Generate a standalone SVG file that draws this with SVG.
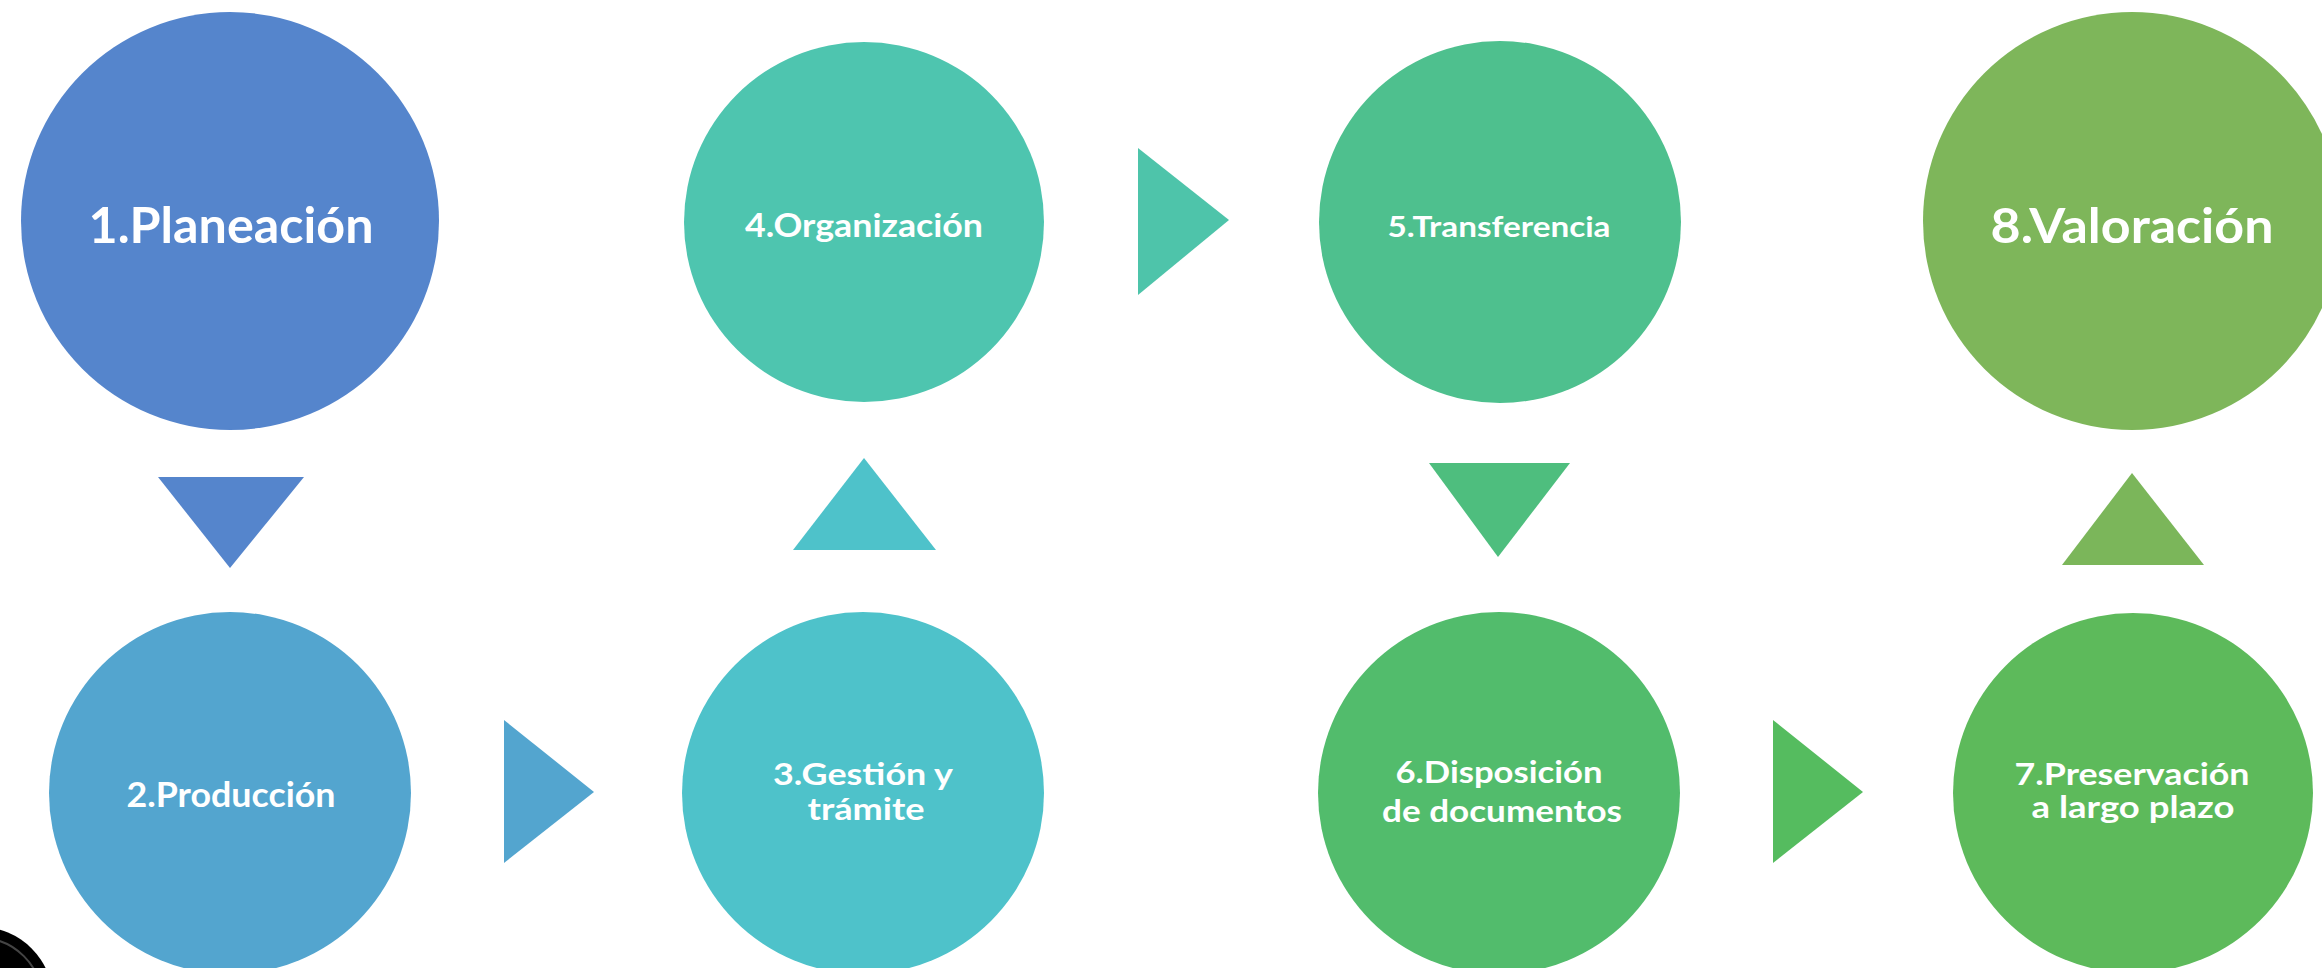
<svg xmlns="http://www.w3.org/2000/svg" width="2322" height="968" viewBox="0 0 2322 968">
  <style>
    .lbl { font-family: Lato, "Open Sans", "Liberation Sans", sans-serif; font-weight: 700; fill: #ffffff; text-anchor: middle; }
  </style>
  <rect width="2322" height="968" fill="#ffffff"/>

  <g id="connectors">
    <polygon points="158,477 304,477 230,568" fill="#5585CC"/>
    <polygon points="504,720 504,863 594,792" fill="#53A5CF"/>
    <polygon points="793,550 936,550 864,458" fill="#4EC2CA"/>
    <polygon points="1138,148 1138,295 1229,220" fill="#4EC4AA"/>
    <polygon points="1429,463 1570,463 1498,557" fill="#4EBE7E"/>
    <polygon points="1773,720 1773,863 1863,792" fill="#55BC5F"/>
    <polygon points="2062,565 2204,565 2132,473" fill="#7BB65A"/>
  </g>

  <g id="node1">
    <circle cx="230" cy="221" r="209" fill="#5585CC"/>
    <text class="lbl" x="231" y="243" font-size="50" textLength="285" lengthAdjust="spacingAndGlyphs">1.Planeación</text>
  </g>
  <g id="node2">
    <circle cx="230" cy="793" r="181" fill="#53A5CF"/>
    <text class="lbl" x="231" y="807" font-size="35" textLength="209" lengthAdjust="spacingAndGlyphs">2.Producción</text>
  </g>
  <g id="node3">
    <circle cx="863" cy="793" r="181" fill="#4EC2CA"/>
    <text class="lbl" x="863" y="785" font-size="30" textLength="180" lengthAdjust="spacingAndGlyphs">3.Gestión y</text>
    <text class="lbl" x="866" y="820" font-size="30" textLength="117" lengthAdjust="spacingAndGlyphs">trámite</text>
  </g>
  <g id="node4">
    <circle cx="864" cy="222" r="180" fill="#4EC5AF"/>
    <text class="lbl" x="864" y="237" font-size="33" textLength="238" lengthAdjust="spacingAndGlyphs">4.Organización</text>
  </g>
  <g id="node5">
    <circle cx="1500" cy="222" r="181" fill="#4EC08E"/>
    <text class="lbl" x="1499" y="237" font-size="28" textLength="223" lengthAdjust="spacingAndGlyphs">5.Transferencia</text>
  </g>
  <g id="node6">
    <circle cx="1499" cy="793" r="181" fill="#52BC6C"/>
    <text class="lbl" x="1499" y="783" font-size="30" textLength="207" lengthAdjust="spacingAndGlyphs">6.Disposición</text>
    <text class="lbl" x="1502" y="822" font-size="30" textLength="240" lengthAdjust="spacingAndGlyphs">de documentos</text>
  </g>
  <g id="node7">
    <circle cx="2133" cy="793" r="180" fill="#5DBA5B"/>
    <text class="lbl" x="2132" y="785" font-size="30" textLength="235" lengthAdjust="spacingAndGlyphs">7.Preservación</text>
    <text class="lbl" x="2133" y="818" font-size="30" textLength="203" lengthAdjust="spacingAndGlyphs">a largo plazo</text>
  </g>
  <g id="node8">
    <circle cx="2132" cy="221" r="209" fill="#7EB65A"/>
    <text class="lbl" x="2132" y="243" font-size="47" textLength="283" lengthAdjust="spacingAndGlyphs">8.Valoración</text>
  </g>

  <g id="corner-mark">
    <circle cx="-20" cy="1000" r="73" fill="#000000"/>
    <circle cx="-20" cy="1000" r="62" fill="none" stroke="#444444" stroke-width="2"/>
  </g>
</svg>
